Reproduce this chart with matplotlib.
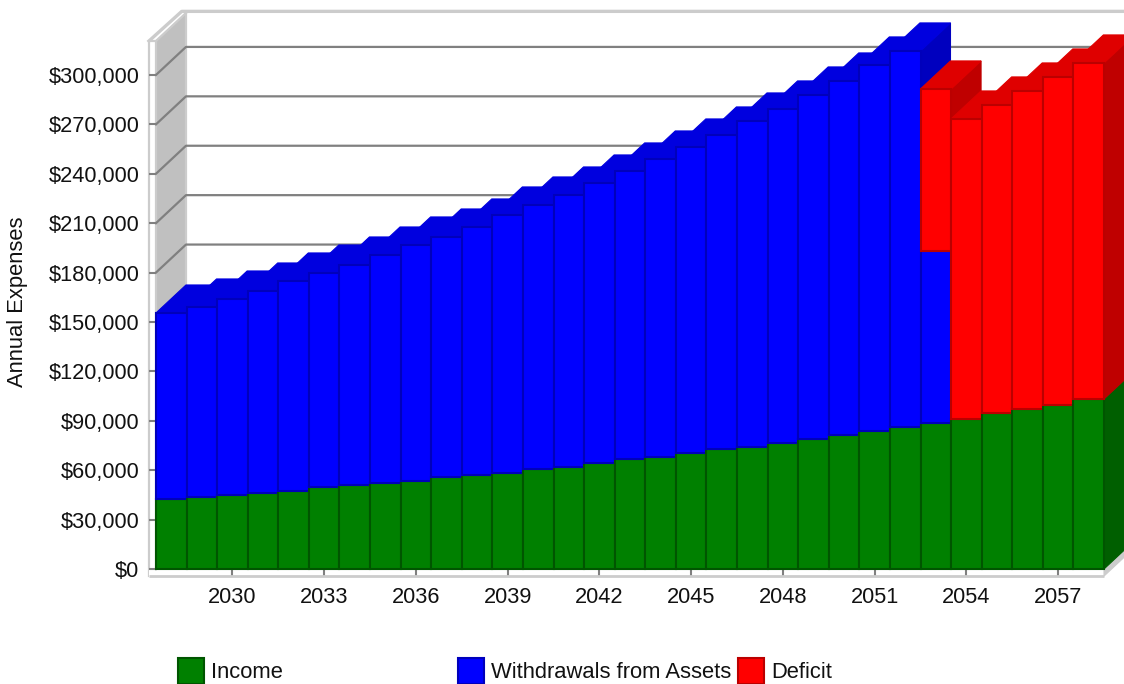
import matplotlib
matplotlib.use( "Agg" )
import matplotlib.pyplot as plt
from matplotlib.patches import Polygon, Rectangle

plt.rcParams[ "font.family" ] = [ "Liberation Sans", "DejaVu Sans" ]

########### Data

years = list( range( 2028 , 2059 ) )
income = [ 42510, 43720, 44940, 46150, 47370, 49800, 51010, 52230, 53440, 55870, 57080,
           58300, 60730, 61940, 64370, 66800, 68020, 70440, 72870, 74090, 76520, 78950,
           81380, 83800, 86230, 88660, 91090, 94740, 97160, 99590, 103240 ]
withdrawals = [ 112950, 115390, 119020, 122670, 127530, 129950, 133600, 138450, 143320, 145740, 150610,
                156680, 160320, 165180, 170040, 174900, 180960, 185830, 190690, 197970, 202830, 208900,
                214970, 222270, 228340, 104450, 0, 0, 0, 0, 0 ]
deficit = [ 0, 0, 0, 0, 0, 0, 0, 0, 0, 0, 0,
            0, 0, 0, 0, 0, 0, 0, 0, 0, 0, 0,
            0, 0, 0, 98380, 182180, 187040, 193120, 199190, 204040 ]

series_names = [ "Income" , "Withdrawals from Assets" , "Deficit" ]
y_ticks = list( range( 0 , 300001 , 30000 ) )
x_ticks = list( range( 2030 , 2058 , 3 ) )

# front , top , side , edge
green = [ "#008000" , "#006c00" , "#005f00" , "#005500" ]
blue = [ "#0000ff" , "#0000df" , "#0000bf" , "#0000bb" ]
red = [ "#ff0000" , "#df0000" , "#bf0000" , "#bb0000" ]

########### Layout

W , H = 1124 , 684
x0 , x1 = 2027.5 , 2058.5
ymax = 320600
depth_x = 0.98
depth_y = 17000
wall = "#c0c0c0"
frame = "#cccccc"

fig = plt.figure( figsize = ( W / 100 , H / 100 ) , dpi = 100 )
ax = fig.add_axes( [ 156 / W , 1 - 569 / H , 948 / W , 528 / H ] )
ax.set_xlim( x0 , x1 )
ax.set_ylim( 0 , ymax )
for s in ax.spines.values():
    s.set_visible( False )

def poly( points , face , edge = None , lw = 0.8 , z = 3 ):
    ax.add_patch( Polygon( points , closed = True , facecolor = face ,
                           edgecolor = edge if edge else face , linewidth = lw ,
                           clip_on = False , zorder = z , joinstyle = "miter" ) )

########### Walls and grid

strip_x = 0.23
strip_y = 4300
back_x = x0 + depth_x
far_x = x1 + depth_x

# left wall and the white strip holding the ticks
poly( [ ( x0 , 0 ) , ( back_x , depth_y ) , ( back_x , ymax + depth_y ) , ( x0 , ymax ) ] , wall , z = 1 )
poly( [ ( x0 - strip_x , -strip_y ) , ( x0 , -strip_y ) , ( x0 , ymax ) , ( x0 - strip_x , ymax ) ] , "white" , frame , 1.6 , z = 1 )
poly( [ ( x0 - strip_x , -strip_y ) , ( x1 , -strip_y ) , ( x1 , 0 ) , ( x0 - strip_x , 0 ) ] , "white" , z = 1 )

# floor at the right end
poly( [ ( x1 , 0 ) , ( x1 + depth_x , depth_y ) , ( x1 + depth_x , depth_y - strip_y ) , ( x1 , -strip_y ) ] , frame , z = 1 )

# frame lines
ax.plot( [ x0 - strip_x , x1 ] , [ -strip_y , -strip_y ] , color = frame , lw = 2 , clip_on = False , zorder = 2 , solid_capstyle = "butt" )
ax.plot( [ x0 - strip_x , back_x - strip_x * 0.6 , far_x ] , [ ymax , ymax + depth_y + 1000 , ymax + depth_y + 1000 ] ,
         color = frame , lw = 2.4 , clip_on = False , zorder = 2 )
ax.plot( [ x0 , back_x ] , [ ymax , ymax + depth_y ] , color = frame , lw = 1.6 , clip_on = False , zorder = 2 )
ax.plot( [ back_x , back_x ] , [ depth_y , ymax + depth_y ] , color = frame , lw = 1.6 , clip_on = False , zorder = 2 )

for v in y_ticks:
    ax.plot( [ x0 , back_x , far_x ] , [ v , v + depth_y , v + depth_y ] , color = "#808080" , lw = 1.6 ,
             clip_on = False , zorder = 2 )

########### Bars, left to right so that the next bar covers the side of the previous one

for i , year in enumerate( years ):
    left = year - 0.5
    right = year + 0.5
    base = 0
    for value , colors in zip( [ income[ i ] , withdrawals[ i ] , deficit[ i ] ] , [ green , blue , red ] ):
        if value == 0:
            continue
        top = base + value
        poly( [ ( right , base ) , ( right + depth_x , base + depth_y ) ,
                ( right + depth_x , top + depth_y ) , ( right , top ) ] , colors[ 2 ] )
        poly( [ ( left , top ) , ( left + depth_x , top + depth_y ) ,
                ( right + depth_x , top + depth_y ) , ( right , top ) ] , colors[ 1 ] )
        poly( [ ( left , base ) , ( right , base ) , ( right , top ) , ( left , top ) ] , colors[ 0 ] , colors[ 3 ] , 1.5 )
        base = top

########### Axes text

ax.set_xticks( x_ticks )
ax.set_xticklabels( [ str( y ) for y in x_ticks ] )
ax.set_yticks( y_ticks )
ax.set_yticklabels( [ "${:,}".format( v ) for v in y_ticks ] )
ax.tick_params( axis = "x" , length = 5 , width = 1.5 , color = "#808080" , labelsize = 15.7 , pad = 8 ,
                labelcolor = "#111111" )
ax.tick_params( axis = "y" , length = 5 , width = 1.5 , color = "#808080" , labelsize = 15.7 , pad = 7 ,
                labelcolor = "#111111" )
ax.tick_params( axis = "both" , zorder = 2 )

fig.text( 18 / W , 1 - 302 / H , "Annual Expenses" , rotation = 90 , ha = "center" , va = "center" ,
          fontsize = 15.8 , color = "#111111" )

########### Legend

legend_x = [ 178 , 458 , 738 ]
for lx , name , colors in zip( legend_x , series_names , [ green , blue , red ] ):
    fig.add_artist( Rectangle( ( lx / W , 1 - 684 / H ) , 26 / W , 26 / H , transform = fig.transFigure ,
                               facecolor = colors[ 0 ] , edgecolor = colors[ 3 ] , linewidth = 1.5 ) )
    fig.text( ( lx + 33 ) / W , 1 - 672 / H , name , ha = "left" , va = "center" , fontsize = 15.8 , color = "#111111" )

fig.savefig( "out.png" , dpi = 100 )
